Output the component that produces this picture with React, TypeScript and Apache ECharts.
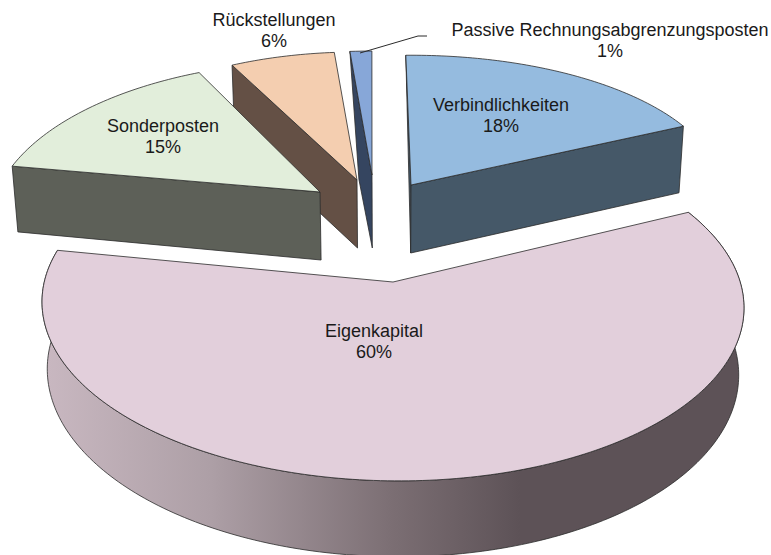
import React, { useEffect, useRef } from "react";
import * as echarts from "echarts";

// Clockwise from the top of the pie
const sliceNames = ["Verbindlichkeiten", "Eigenkapital", "Sonderposten", "Rückstellungen", "Passive Rechnungsabgrenzungsposten"];
const sliceValues = [18, 60, 15, 6, 1];
const topColors = ["#95bbdf", "#e2cfdb", "#e2eedb", "#f4ceb0", "#87a7d8"];
const sideColors = ["#455868", "", "#5d6058", "#645045", "#354560"];
const drawOrder = [4, 3, 2, 0, 1];
const START_ANGLE = -1;

// Per-slice perspective of the exploded 3D pie: anchor, radii, perspective, depth
const anchors = [[411, 185], [393, 282], [320, 192], [357, 180], [372, 175]];
const radiiX = [310, 348, 323, 283, 350];
const radiiY = [136, 173, 157, 128, 124];
const perspective = [0.048, 0.13, 0.2, 0, 0];
const tilts = [0, -3, 0, 0, 0];
const skews = [0, 0, 0, 0, 6];
const depths = [68, 66, 68, 68, 73];
const faces = [["startTriangle", "end"], ["outer"], ["start"], ["start"], ["startFoot"]];
const labelAnchors = [[501, 115], [374, 341], [163, 136], [274, 30], [610, 40]];

const VANISH_X = 392;
const SHRINK = 0.985;

function rim(i: number, deg: number) {
  const t = (deg * Math.PI) / 180;
  const s = Math.sin(t);
  const c = Math.cos(t);
  const w = 1 + perspective[i] * c;
  const [ax, ay] = anchors[i];
  return {
    x: ax + (radiiX[i] * s + skews[i] * c) / w,
    y: ay - (radiiY[i] * c + tilts[i] * s) / w,
    h: depths[i] / w,
  };
}
const lower = (x: number, y: number, h: number): number[] => [VANISH_X + (x - VANISH_X) * SHRINK, y + h];

const total = sliceValues.reduce((a, b) => a + b, 0);
const startAngles: number[] = [];
sliceValues.reduce((acc, v, i) => {
  startAngles[i] = acc;
  return acc + (v / total) * 360;
}, START_ANGLE);

const eigenGradient = new echarts.graphic.LinearGradient(
  42, 0, 745, 0,
  [
    { offset: 0, color: "#c9b8c1" },
    { offset: 0.24, color: "#ad9fa6" },
    { offset: 0.5, color: "#7b6e73" },
    { offset: 0.68, color: "#5d5257" },
    { offset: 1, color: "#5d5257" },
  ],
  true
);

const LINE = { stroke: "#2b2b2b", lineWidth: 0.8 };

function renderSlice(_params: any, api: any) {
  const i = api.value(1) as number;
  const a0 = startAngles[i];
  const a1 = a0 + (api.value(0) / total) * 360;
  const top: number[][] = [];
  const bottom: number[][] = [];
  const steps = Math.max(2, Math.ceil(a1 - a0));
  for (let k = 0; k <= steps; k++) {
    const p = rim(i, a0 + ((a1 - a0) * k) / steps);
    top.push([p.x, p.y]);
    bottom.push(lower(p.x, p.y, p.h));
  }
  const [ax, ay] = anchors[i];
  const apexLow = lower(ax, ay, depths[i]);
  const side = sideColors[i] || eigenGradient;
  const children: any[] = [];
  const poly = (points: number[][], fill: any) =>
    children.push({ type: "polygon", shape: { points }, style: { fill, ...LINE } });

  const f = faces[i];
  if (f.includes("outer")) poly([...top, ...bottom.slice().reverse()], side);
  if (f.includes("start")) poly([top[0], [ax, ay], apexLow, bottom[0]], side);
  if (f.includes("startTriangle")) poly([top[0], [ax, ay], apexLow], side);
  if (f.includes("startFoot")) poly([top[0], [ax, ay], apexLow, [top[0][0] + 9, top[0][1] + 128]], side);
  if (f.includes("end")) poly([top[steps], [ax, ay], apexLow, bottom[steps]], side);
  poly([[ax, ay], ...top], topColors[i]);
  return { type: "group", children };
}

function renderLabel(_params: any, api: any) {
  const i = api.value(1) as number;
  return {
    type: "text",
    x: labelAnchors[i][0],
    y: labelAnchors[i][1],
    style: {
      text: `${sliceNames[i]}\n${api.value(0)}%`,
      fontFamily: "Liberation Sans",
      fontSize: 18,
      lineHeight: 21,
      fill: "#1a1a1a",
      align: "center",
      verticalAlign: "middle",
    },
  };
}

const seriesData = drawOrder.map((i) => [sliceValues[i], i]);

export default function App() {
  const ref = useRef<HTMLDivElement>(null);
  useEffect(() => {
    document.body.style.margin = "0";
    const chart = echarts.init(ref.current!, undefined, { renderer: "svg" });
    chart.setOption({
      animation: false,
      backgroundColor: "#ffffff",
      series: [
        { type: "custom", coordinateSystem: "none", silent: true, data: seriesData, renderItem: renderSlice, z: 1 },
        { type: "custom", coordinateSystem: "none", silent: true, data: seriesData, renderItem: renderLabel, z: 3 },
      ],
      graphic: [
        {
          type: "polyline",
          z: 2,
          shape: { points: [[360, 53], [418, 36], [427, 36]] },
          style: { stroke: "#2b2b2b", lineWidth: 1, fill: "none" },
        },
      ],
    });
    return () => chart.dispose();
  }, []);
  return <div ref={ref} style={{ width: 771, height: 555 }} />;
}
